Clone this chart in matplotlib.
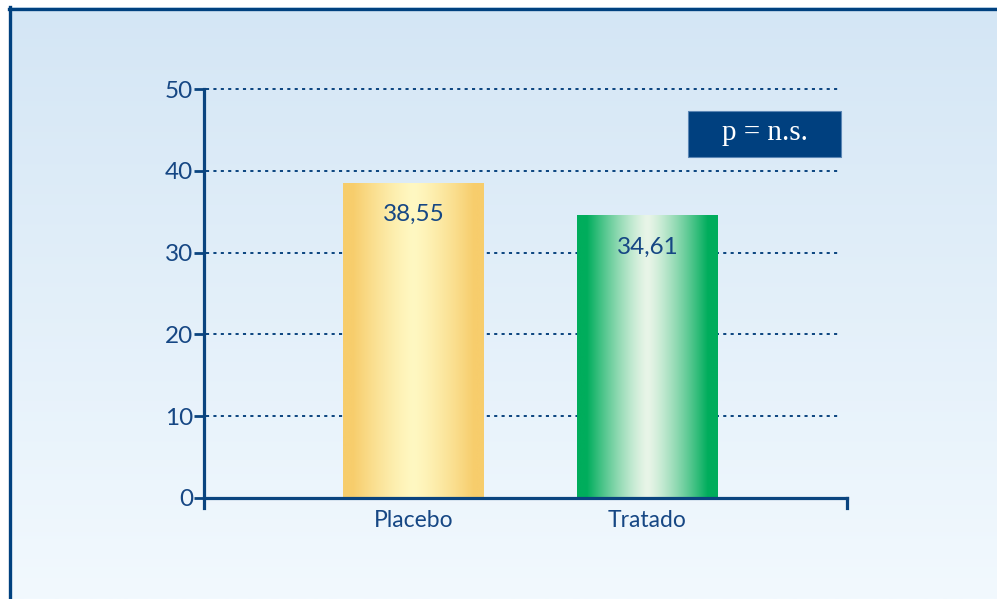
import numpy as np
import matplotlib
matplotlib.use("Agg")
import matplotlib.pyplot as plt
from matplotlib.colors import to_rgb
from matplotlib.patches import Rectangle

# data
grupos = ["Placebo", "Tratado"]
valores = [38.55, 34.61]
etiquetas = ["38,55", "34,61"]
y_ticks = [0, 10, 20, 30, 40, 50]
p_texto = "p = n.s."

azul = "#0a447f"
azul_txt = "#164784"
borde_colores = ["#f7cd6c", "#00ad5c"]
centro_colores = ["#fff8c2", "#e9f5e8"]

plt.rcParams["font.family"] = ["Lato", "DejaVu Sans"]

fig = plt.figure(figsize=(9.97, 5.99), dpi=100)
fig.patch.set_facecolor("white")

# background gradient + frame
bg = fig.add_axes([9 / 997, 0, 1 - 9 / 997, 1 - 7 / 599])
grad = np.linspace(0, 1, 256)[:, None]
top = np.array(to_rgb("#d4e6f5"))
bot = np.array(to_rgb("#f2f9fe"))
img = top[None, None, :] * (1 - grad[..., None]) + bot[None, None, :] * grad[..., None]
bg.imshow(img, aspect="auto", extent=[0, 1, 0, 1])
bg.set_axis_off()
bg.set_xlim(0, 1)
bg.set_ylim(0, 1)
bg.plot([0.0015, 0.0015], [0, 1], color="#00417f", lw=2.4, clip_on=False)
bg.plot([0, 1], [0.997, 0.997], color="#00417f", lw=2.4, clip_on=False)

ax = fig.add_axes([204 / 997, 1 - 507.7 / 599, 643 / 997, (507.7 - 89.3) / 599])
ax.patch.set_alpha(0)

x = np.arange(len(grupos))
bars = ax.bar(x, valores, width=0.603, color="none", zorder=3)

for b, ce, cb in zip(bars, centro_colores, borde_colores):
    t = np.linspace(-1, 1, 300)
    f = np.clip(np.abs(t) / 0.86, 0, 1) ** 1.3
    c0 = np.array(to_rgb(ce))
    c1 = np.array(to_rgb(cb))
    row = c0[None, :] * (1 - f[:, None]) + c1[None, :] * f[:, None]
    ax.imshow(row[None, :, :], aspect="auto", zorder=2,
              extent=[b.get_x(), b.get_x() + b.get_width(), 0, b.get_height()])

for xi, v, lab in zip(x, valores, etiquetas):
    ax.annotate(lab, (xi, v), xytext=(0, -23), textcoords="offset points",
                ha="center", va="center", fontsize=17.5, color=azul_txt, zorder=4)

# dotted grid
for yt in y_ticks[1:]:
    ax.axhline(yt, xmin=0.003, xmax=(841 - 204) / 643, color=azul, lw=1.4,
               linestyle=(0, (1.6, 2.2)), zorder=1, clip_on=False)

ax.set_xlim(-0.897, 1.854)
ax.set_ylim(-1.22, 50)
ax.set_yticks(y_ticks)
ax.set_xticks(x)
ax.set_xticklabels(grupos)

ax.spines["top"].set_visible(False)
ax.spines["left"].set_bounds(-1.22, 50)
ax.spines["left"].set_linewidth(2.3)
ax.spines["left"].set_color(azul)
ax.spines["bottom"].set_position(("data", 0))
ax.spines["bottom"].set_linewidth(2.3)
ax.spines["bottom"].set_color(azul)
ax.spines["right"].set_bounds(-1.22, 0)
ax.spines["right"].set_linewidth(2.3)
ax.spines["right"].set_color(azul)

ax.tick_params(axis="y", direction="out", length=7, width=2, color=azul,
               labelcolor=azul_txt, labelsize=17.5, pad=1)
ax.tick_params(axis="x", length=0, labelcolor=azul_txt, labelsize=16.5, pad=9)

# p-value box
ax.add_patch(Rectangle(((688 - 204) / 643, (507.7 - 157) / (507.7 - 89.3)),
                       (841 - 688) / 643, 46 / (507.7 - 89.3),
                       transform=ax.transAxes, facecolor="#00407f",
                       edgecolor="#5b86b5", lw=0.8, zorder=5, clip_on=False))
ax.text((764.5 - 204) / 643, (507.7 - 133) / (507.7 - 89.3), p_texto,
        transform=ax.transAxes, ha="center", va="center", color="white",
        fontsize=21, family=["Liberation Serif", "DejaVu Serif"], zorder=6)

fig.savefig("out.png", dpi=100)
